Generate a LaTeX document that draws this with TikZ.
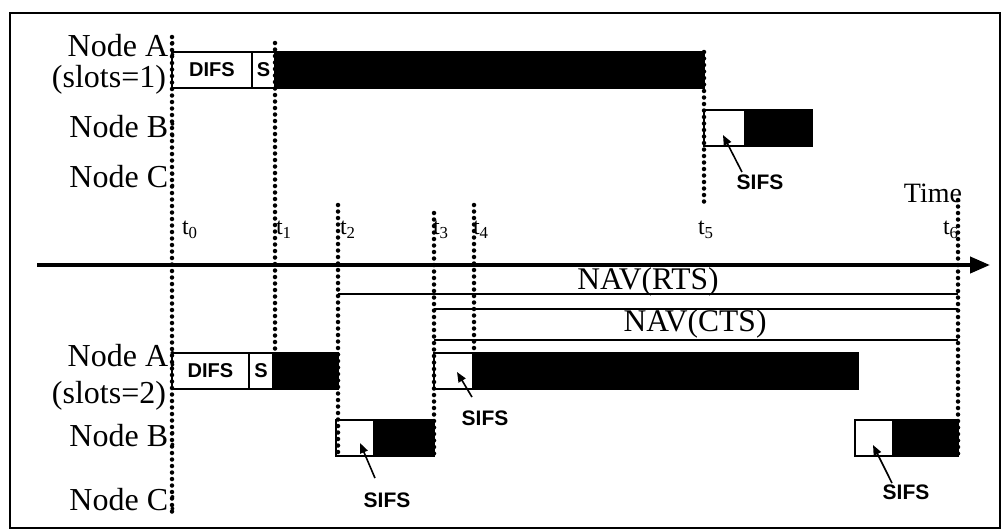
\documentclass[tikz,border=0pt]{standalone}
\usepackage{fontspec}
\setmainfont{Liberation Serif}
\newfontfamily\boxfont{Liberation Sans}
\usetikzlibrary{arrows.meta}

\begin{document}
\begin{tikzpicture}[x=1pt, y=-1pt,
  every node/.style={inner sep=0pt, outer sep=0pt},
  lbl/.style={font=\fontsize{32}{34}\selectfont, anchor=east},
  tlbl/.style={font=\fontsize{24}{26}\selectfont, anchor=west},
  nav/.style={font=\fontsize{31.5}{33}\selectfont},
  sifs/.style={font=\boxfont\bfseries\fontsize{21}{23}\selectfont},
  wbox/.style={draw, line width=1.8pt, fill=white, anchor=north west, minimum height=36pt,
    font=\boxfont\bfseries\fontsize{20}{22}\selectfont},
  bbox/.style={draw, line width=1.8pt, fill=black, anchor=north west, minimum height=36pt},
  tline/.style={line width=4.5pt, line cap=round, dash pattern=on 0pt off 6.5pt},
  navline/.style={line width=1.8pt},
  pointer/.style={line width=1.6pt, -{Triangle[length=10pt,width=8pt]}}]
\useasboundingbox (0,0) rectangle (1003,531);
\draw[line width=2.5pt] (10,13) rectangle (1000,528);

% NAV periods
\draw[navline] (338,294) -- (958,294);
\draw[navline] (434,309) -- (958,309);
\draw[navline] (434,340) -- (958,340);
\node[nav] (navrts) at (648,282) {NAV(RTS)};
\node[nav] (navcts) at (695,324) {NAV(CTS)};

% slots=1
\node[wbox, minimum width=80pt] (difs1) at (172,52) {DIFS};
\node[wbox, minimum width=23pt] (slot1) at (difs1.north east) {S};
\node[bbox, minimum width=429pt] (data1) at (slot1.north east) {};
\node[wbox, minimum width=41pt] (sifsB1) at (704,110) {};
\node[bbox, minimum width=67pt] (ackB1) at (sifsB1.north east) {};

% slots=2
\node[wbox, minimum width=77pt] (difs2) at (172,353) {DIFS};
\node[wbox, minimum width=24pt] (slot2) at (difs2.north east) {S};
\node[bbox, minimum width=65pt] (rts2) at (slot2.north east) {};
\node[wbox, minimum width=38pt] (sifsB2) at (336,420) {};
\node[bbox, minimum width=60pt] (cts2) at (sifsB2.north east) {};
\node[wbox, minimum width=39pt] (sifsA2) at (434,353) {};
\node[bbox, minimum width=385pt] (data2) at (sifsA2.north east) {};
\node[wbox, minimum width=38pt] (sifsB3) at (855,420) {};
\node[bbox, minimum width=65pt] (ackB2) at (sifsB3.north east) {};

% time marks
\draw[tline] (172,37) -- (172,512);
\draw[tline] (275,43) -- (275,353);
\draw[tline] (338,205) -- (338,456);
\draw[tline] (434,213) -- (434,456);
\draw[tline] (474,205) -- (474,353);
\draw[tline] (704,52) -- (704,208);
\draw[tline] (958,200) -- (958,456);

\coordinate (origin) at (37,265);
\coordinate (tend) at (990,265);
\draw[line width=4pt, -{Triangle[length=20pt,width=16pt]}] (origin) -- (tend);

\node[tlbl] (t0) at (182,230) {t\textsubscript{0}};
\node[tlbl] (t1) at (276,230) {t\textsubscript{1}};
\node[tlbl] (t2) at (340,230) {t\textsubscript{2}};
\node[tlbl] (t3) at (433,230) {t\textsubscript{3}};
\node[tlbl] (t4) at (473,230) {t\textsubscript{4}};
\node[tlbl] (t5) at (698,230) {t\textsubscript{5}};
\node[tlbl] (t6) at (943,230) {t\textsubscript{6}};
\node[font=\fontsize{28}{30}\selectfont] (time) at (933,193) {Time};

% row labels
\node[lbl] (nodeA1) at (177,46) {Node A:};
\node[lbl] (slots1) at (166,80) {(slots=1)};
\node[lbl] (nodeB1) at (177,127) {Node B:};
\node[lbl] (nodeC1) at (177,177) {Node C:};
\node[lbl] (nodeA2) at (177,356) {Node A:};
\node[lbl] (slots2) at (166,396) {(slots=2)};
\node[lbl] (nodeB2) at (177,436) {Node B:};
\node[lbl] (nodeC2) at (177,500) {Node C:};

% SIFS pointers
\node[sifs] (sifs1) at (760,182) {SIFS};
\node[sifs] (sifs2) at (485,418) {SIFS};
\node[sifs] (sifs3) at (387,500) {SIFS};
\node[sifs] (sifs4) at (906,492) {SIFS};
\coordinate (p1) at (723,135);
\coordinate (p2) at (457,372);
\coordinate (p3) at (360,443);
\coordinate (p4) at (873,445);
\draw[pointer] ([xshift=-18pt,yshift=2.5pt]sifs1.north) -- (p1);
\draw[pointer] ([xshift=-13pt,yshift=13.5pt]sifs2.north) -- (p2);
\draw[pointer] ([xshift=-12pt,yshift=14.5pt]sifs3.north) -- (p3);
\draw[pointer] ([xshift=-14pt,yshift=1.5pt]sifs4.north) -- (p4);
\end{tikzpicture}
\end{document}
